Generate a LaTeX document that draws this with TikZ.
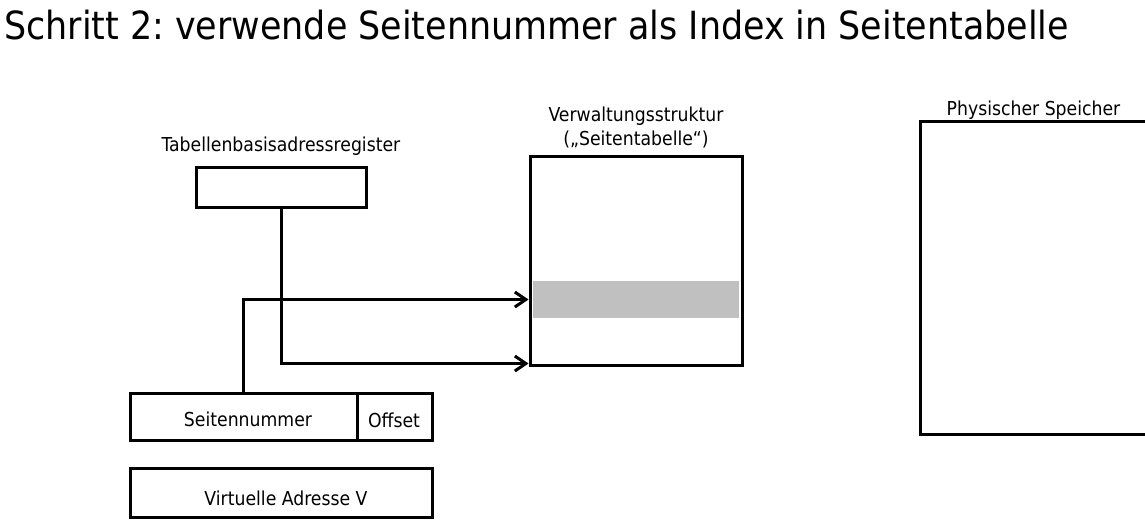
\documentclass[tikz,border=0pt]{standalone}
\usepackage{fontspec}
\setmainfont{DejaVu Sans Condensed}
\usetikzlibrary{arrows.meta}
\definecolor{rowgray}{HTML}{C0C0C0}
\tikzset{
  box/.style={draw=black, line width=3pt, rectangle, inner sep=0pt, outer sep=0pt},
  lbl/.style={font=\fontsize{19.2}{24}\selectfont, inner sep=0pt, anchor=base},
  conn/.style={draw=black, line width=3pt, -{Straight Barb[length=11pt,width=15pt,line width=3pt]}},
}
\frenchspacing
\begin{document}
\begin{tikzpicture}[x=1pt,y=-1pt]
\useasboundingbox (0,0) rectangle (1145,531);
\clip (0,0) rectangle (1145,531);
% title
\node[anchor=base west, inner sep=0pt, font=\fontsize{38.8}{46}\selectfont] (title) at (4,39) {Schritt 2: verwende Seitennummer als Index in Seitentabelle};
% table base address register
\node[box, minimum width=170pt, minimum height=40pt] (tbr) at (281,187) {};
\node[lbl] (tbrl) at (281,151) {Tabellenbasisadressregister};
% virtual address
\node[box, minimum width=227pt, minimum height=47pt] (sn) at (243.5,416.5) {};
\node[lbl] (snl) at (248,426) {Seitennummer};
\node[box, minimum width=75pt, minimum height=47pt] (off) at (394.5,416.5) {};
\node[lbl] (offl) at (394,427.5) {Offset};
\node[box, minimum width=302pt, minimum height=49pt] (va) at (281,492.5) {};
\node[lbl] (val) at (286,505) {Virtuelle Adresse V};
% page table
\node[box, minimum width=212pt, minimum height=209pt] (st) at (636,260.5) {};
\node[fill=rowgray, inner sep=0pt, minimum width=206pt, minimum height=37pt] (row) at (636,299.5) {};
\node[lbl] (stl1) at (636,121.5) {Verwaltungsstruktur};
\node[lbl] (stl2) at (636,145.5) {(„Seitentabelle“)};
% physical memory
\node[box, minimum width=230pt, minimum height=313pt] (ps) at (1035,277.5) {};
\node[lbl] (psl) at (1033.5,115) {Physischer Speicher};
% connectors
\draw[conn, shorten >=1.5pt] (sn.north) |- (st.west |- row.west);
\draw[conn, shorten >=1.5pt] (tbr.south) |- ([yshift=1.5pt]st.south west);
\end{tikzpicture}
\end{document}
